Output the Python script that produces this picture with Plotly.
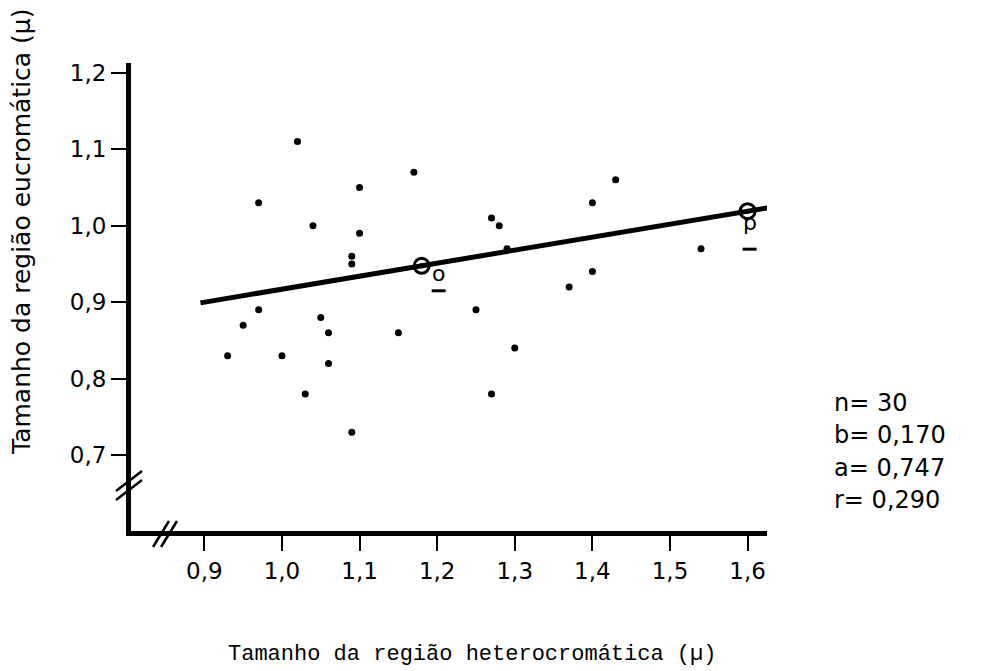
import plotly.graph_objects as go

# Tamanho da região heterocromática (µ) e eucromática (µ) de cada medida
heterocromatica = [1.02, 1.17, 1.10, 0.97, 1.04, 1.10, 1.09, 1.09, 1.43, 1.40,
                   1.27, 1.28, 1.29, 1.54, 1.40, 1.37, 1.25, 1.30, 1.27, 0.95,
                   1.05, 1.06, 1.15, 0.93, 1.00, 1.06, 1.03, 1.09, 0.97]
eucromatica = [1.11, 1.07, 1.05, 1.03, 1.00, 0.99, 0.96, 0.95, 1.06, 1.03,
               1.01, 1.00, 0.97, 0.97, 0.94, 0.92, 0.89, 0.84, 0.78, 0.87,
               0.88, 0.86, 0.86, 0.83, 0.83, 0.82, 0.78, 0.73, 0.89]

# Estatísticas da regressão
n_obs = 30
b_coef = 0.170
a_coef = 0.747
r_coef = 0.290

# Extensão da reta e pontos de referência o e p
reta_x = [0.895, 1.70]
pontos_ref_x = [1.18, 1.60]
pontos_ref_nome = ["o", "p"]

x_ticks = [0.9, 1.0, 1.1, 1.2, 1.3, 1.4, 1.5, 1.6]
y_ticks = [0.7, 0.8, 0.9, 1.0, 1.1, 1.2]
x_ticktext = ["0,9", "1,0", "1,1", "1,2", "1,3", "1,4", "1,5", "1,6"]
y_ticktext = ["0,7", "0,8", "0,9", "1,0", "1,1", "1,2"]

W, H = 991, 671
ML, MR, MT, MB = 131, 224, 63, 140
PW, PH = W - ML - MR, H - MT - MB


def px(xp):
    return (xp - ML) / PW


def py(yp):
    return (H - MB - yp) / PH


def reta(x):
    return a_coef + b_coef * x


LETRA = "DejaVu Sans"

fig = go.Figure()

fig.add_trace(go.Scatter(
    x=reta_x, y=[reta(v) for v in reta_x], mode="lines",
    line=dict(color="black", width=5), hoverinfo="skip", showlegend=False))

fig.add_trace(go.Scatter(
    x=heterocromatica, y=eucromatica, mode="markers",
    marker=dict(color="black", size=7), showlegend=False))

ref_y = [reta(v) for v in pontos_ref_x]
fig.add_trace(go.Scatter(
    x=pontos_ref_x, y=ref_y, mode="markers",
    marker=dict(symbol="circle-open", color="black", size=15,
                line=dict(width=3, color="black")),
    showlegend=False))
fig.add_trace(go.Scatter(
    x=pontos_ref_x, y=ref_y, mode="markers",
    marker=dict(color="black", size=5), showlegend=False))

# rótulos dos pontos o e p, com traço por baixo (deslocamentos em pixels)
for nome, xv, yv, dx, dy, dsub in zip(pontos_ref_nome, pontos_ref_x, ref_y,
                                      [17, 2], [-8, -11], [-25, -38]):
    fig.add_annotation(x=xv, y=yv, xref="x", yref="y", text=nome,
                       showarrow=False, xshift=dx, yshift=dy,
                       font=dict(family=LETRA, size=22, color="black"))
    fig.add_shape(type="line", xref="x", yref="y",
                  xsizemode="pixel", ysizemode="pixel",
                  xanchor=xv, yanchor=yv,
                  x0=dx - 7, x1=dx + 7, y0=dsub, y1=dsub,
                  line=dict(color="black", width=3))

# bloco de estatísticas
estat = [f"n= {n_obs}",
         f"b= {b_coef:.3f}".replace(".", ","),
         f"a= {a_coef:.3f}".replace(".", ","),
         f"r= {r_coef:.3f}".replace(".", ",")]
for i, txt in enumerate(estat):
    fig.add_annotation(x=px(832), y=py(403 + 32.3 * i), xref="paper", yref="paper",
                       text=txt, showarrow=False, xanchor="left", yanchor="middle",
                       font=dict(family=LETRA, size=24, color="black"))

# títulos dos eixos
fig.add_annotation(x=px(472), y=py(654), xref="paper", yref="paper",
                   text="Tamanho da região heterocromática (µ)", showarrow=False,
                   xanchor="center", yanchor="middle",
                   font=dict(family="Liberation Mono", size=22, color="black"))
fig.add_annotation(x=px(21), y=py(232), xref="paper", yref="paper",
                   text="Tamanho da região eucromática (µ)", showarrow=False,
                   textangle=-90, xanchor="center", yanchor="middle",
                   font=dict(family=LETRA, size=25, color="black"))

# marcas de interrupção dos eixos
quebras = []
for cy in (481, 490):
    quebras.append(((116, cy + 10), (142, cy - 10)))
for cx in (161, 169):
    quebras.append(((cx - 8, 547), (cx + 8, 521)))
for (x0, y0), (x1, y1) in quebras:
    fig.add_shape(type="line", xref="paper", yref="paper",
                  x0=px(x0), y0=py(y0), x1=px(x1), y1=py(y1),
                  line=dict(color="black", width=2.5))

eixo = dict(showgrid=False, zeroline=False, showline=True, linecolor="black",
            linewidth=5, ticks="outside", ticklen=15, tickwidth=2,
            tickcolor="black", automargin=False, fixedrange=True,
            tickfont=dict(family=LETRA, size=23, color="black"))

fig.update_xaxes(range=[0.8055, 1.625], tickvals=x_ticks, ticktext=x_ticktext,
                 **eixo)
fig.update_yaxes(range=[0.6009, 1.2127], tickvals=y_ticks, ticktext=y_ticktext,
                 **eixo)

fig.update_layout(width=W, height=H, margin=dict(l=ML, r=MR, t=MT, b=MB),
                  paper_bgcolor="white", plot_bgcolor="white",
                  showlegend=False)

fig.write_html("out.html")
